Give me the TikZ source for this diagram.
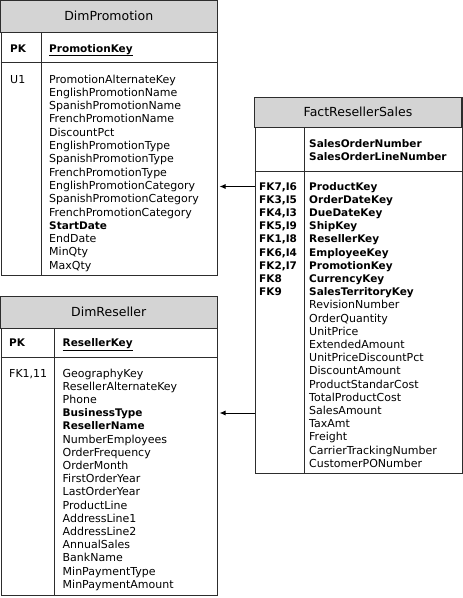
\documentclass[tikz,border=0pt]{standalone}
\usepackage{fontspec}
\setmainfont{DejaVu Sans}
\usetikzlibrary{arrows.meta}
\definecolor{hdr}{RGB}{212,212,212}
\definecolor{ln}{RGB}{45,45,45}
\newcommand\bk[1]{{\fontsize{10.5}{13}\selectfont\bfseries #1}}
\begin{document}
\begin{tikzpicture}[x=1pt,y=-1pt,
  tbl/.style={draw=ln,line width=1pt,inner sep=0pt,anchor=north west},
  hdrfill/.style={fill=hdr,draw=ln,line width=1pt},
  sep/.style={draw=ln,line width=1pt},
  ttl/.style={font=\fontsize{12.5}{14}\selectfont,anchor=base,inner sep=0pt},
  fld/.style={font=\fontsize{11}{13}\selectfont,anchor=base west,inner sep=0pt},
  keyfld/.style={font=\fontsize{10.5}{13}\selectfont\bfseries,anchor=base west,inner sep=0pt},
  fk/.style={draw=black,line width=1pt,-{Latex[length=6pt,width=5pt]}}]
\useasboundingbox (0,0) rectangle (463,598);

% ---------------- DimPromotion ----------------
\node[tbl,minimum width=216.5pt,minimum height=274pt] (promo) at (0.5,0.5) {};
\draw[hdrfill] (promo.north west) rectangle (217,32);
\draw[sep] (0.5,62) -- (217,62);
\draw[sep] (41,32) -- (41,274.5);
\node[ttl] (promoT) at (108.75,20.5) {DimPromotion};
\node[keyfld] (promoPK) at (10,52) {PK};
\node[keyfld] (promoK) at (49,52) {\underline{PromotionKey}};
\node[fld] (promoU) at (10,83) {U1};
\foreach \t [count=\i from 0] in {PromotionAlternateKey,EnglishPromotionName,SpanishPromotionName,FrenchPromotionName,DiscountPct,EnglishPromotionType,SpanishPromotionType,FrenchPromotionType,EnglishPromotionCategory,SpanishPromotionCategory,FrenchPromotionCategory,\bk{StartDate},EndDate,MinQty,MaxQty}
  \node[fld] (p\i) at (49,83+13.3*\i) {\t};

% ---------------- DimReseller ----------------
\node[tbl,minimum width=216.5pt,minimum height=298.5pt] (res) at (0.5,296) {};
\draw[hdrfill] (res.north west) rectangle (217,328);
\draw[sep] (0.5,357.5) -- (217,357.5);
\draw[sep] (54.5,328) -- (54.5,594.5);
\node[ttl] (resT) at (108.75,316.5) {DimReseller};
\node[keyfld] (resPK) at (9,346.5) {PK};
\node[keyfld] (resK) at (62.5,346.5) {\underline{ResellerKey}};
\node[fld] (resFK) at (9,377) {FK1,11};
\foreach \t [count=\i from 0] in {GeographyKey,ResellerAlternateKey,Phone,\bk{BusinessType},\bk{ResellerName},NumberEmployees,OrderFrequency,OrderMonth,FirstOrderYear,LastOrderYear,ProductLine,AddressLine1,AddressLine2,AnnualSales,BankName,MinPaymentType,MinPaymentAmount}
  \node[fld] (r\i) at (62.5,377+13.2*\i) {\t};

% ---------------- FactResellerSales ----------------
\node[tbl,minimum width=207pt,minimum height=376pt] (fact) at (254.5,97) {};
\draw[hdrfill] (fact.north west) rectangle (461.5,127.5);
\draw[sep] (254.5,171.5) -- (461.5,171.5);
\draw[sep] (304.5,127.5) -- (304.5,473);
\node[ttl] (factT) at (358,116.5) {FactResellerSales};
\node[keyfld] (factK1) at (309,147.5) {SalesOrderNumber};
\node[keyfld] (factK2) at (309,160.5) {SalesOrderLineNumber};
\foreach \t [count=\i from 0] in {{FK7,I6},{FK3,I5},{FK4,I3},{FK5,I9},{FK1,I8},{FK6,I4},{FK2,I7},FK8,FK9}
  \node[keyfld] (fl\i) at (259,190+13.2*\i) {\t};
\foreach \t [count=\i from 0] in {\bk{ProductKey},\bk{OrderDateKey},\bk{DueDateKey},\bk{ShipKey},\bk{ResellerKey},\bk{EmployeeKey},\bk{PromotionKey},\bk{CurrencyKey},\bk{SalesTerritoryKey},RevisionNumber,OrderQuantity,UnitPrice,ExtendedAmount,UnitPriceDiscountPct,DiscountAmount,ProductStandarCost,TotalProductCost,SalesAmount,TaxAmt,Freight,CarrierTrackingNumber,CustomerPONumber}
  \node[fld] (f\i) at (309,190+13.2*\i) {\t};

% ---------------- connectors ----------------
\coordinate (a1s) at (fact.west |- 0,186.5);
\coordinate (a1e) at (219.5,186.5);
\draw[fk] (a1s) -- (a1e);
\coordinate (a2s) at (fact.west |- 0,413);
\coordinate (a2e) at (219.5,413);
\draw[fk] (a2s) -- (a2e);
\end{tikzpicture}
\end{document}
